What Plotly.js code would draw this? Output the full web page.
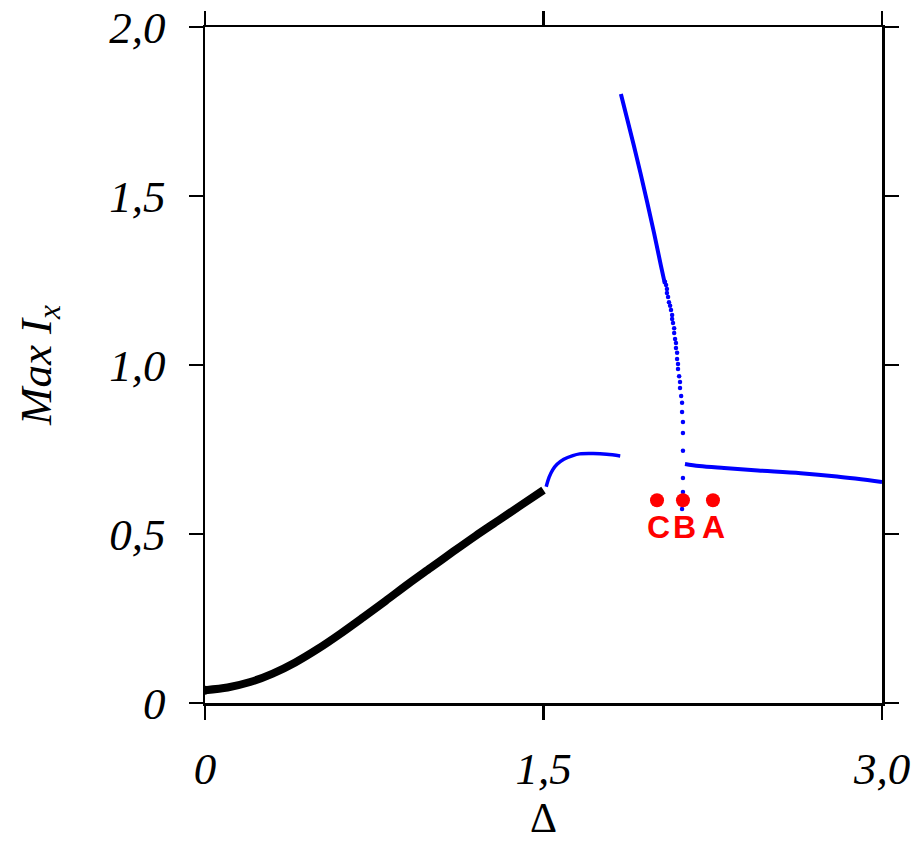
<!DOCTYPE html>
<html>
<head>
<meta charset="utf-8">
<script src="https://cdn.plot.ly/plotly-3.0.1.min.js"></script>
<style>html,body{margin:0;padding:0;background:#fff;}#chart{width:915px;height:841px;}</style>
</head>
<body>
<div id="chart"></div>
<script>
// Black branch (thick)
const blackX = [0, 0.1, 0.2, 0.3, 0.4, 0.5, 0.6, 0.7, 0.8, 0.9, 1.0, 1.1, 1.2, 1.3, 1.4, 1.5];
const blackY = [0.038, 0.046, 0.062, 0.087, 0.12, 0.16, 0.205, 0.253, 0.302, 0.352, 0.40, 0.448, 0.495, 0.54, 0.585, 0.63];

// Blue branch 1 (short arc after 1.5)
const blue1X = [1.512, 1.525, 1.54, 1.56, 1.59, 1.63, 1.66, 1.72, 1.78, 1.84];
const blue1Y = [0.64, 0.668, 0.689, 0.706, 0.721, 0.732, 0.737, 0.738, 0.736, 0.731];

// Blue branch 2, dense upper part
const blue2X = [1.843, 1.87, 1.90, 1.93, 1.96, 1.99, 2.02, 2.038];
const blue2Y = [1.802, 1.730, 1.650, 1.567, 1.480, 1.390, 1.295, 1.240];

// Blue branch 2, sparse dotted lower part
const dotsX = [2.038, 2.043, 2.047, 2.047, 2.052, 2.056, 2.061, 2.065, 2.070, 2.070, 2.074, 2.079, 2.079, 2.083, 2.087, 2.087, 2.092, 2.092, 2.096, 2.096, 2.101, 2.105, 2.105, 2.110, 2.114, 2.114, 2.118, 2.118, 2.118, 2.118, 2.118, 2.114];
const dotsY = [1.246, 1.237, 1.225, 1.213, 1.201, 1.186, 1.175, 1.163, 1.148, 1.136, 1.124, 1.109, 1.095, 1.077, 1.065, 1.050, 1.036, 1.018, 1.003, 0.988, 0.967, 0.950, 0.932, 0.908, 0.888, 0.861, 0.831, 0.799, 0.746, 0.666, 0.624, 0.574];

// Blue branch 3 (right)
const blue3X = [2.127, 2.19, 2.3, 2.45, 2.64, 2.8, 3.0];
const blue3Y = [0.707, 0.701, 0.695, 0.688, 0.680, 0.670, 0.654];

// Red points and labels
const redX = [2.003, 2.118, 2.251];
const redY = [0.60, 0.60, 0.60];
const redLabels = ['C', 'B', 'A'];
const labelX = [2.010, 2.124, 2.252];
const labelY = 0.522;

// Ticks
const xTickVals = [0, 1.5, 3.0];
const xTickText = ['0', '1,5', '3,0'];
const yTickVals = [0, 0.5, 1.0, 1.5, 2.0];
const yTickText = ['0', '0,5', '1,0', '1,5', '2,0'];

const traces = [
  {x: blackX, y: blackY, mode: 'lines', line: {color: '#000', width: 8, shape: 'spline', smoothing: 0.8}, hoverinfo: 'skip'},
  {x: [blackX[0]], y: [blackY[0]], mode: 'markers', marker: {color: '#000', size: 9}, hoverinfo: 'skip'},
  {x: blue1X, y: blue1Y, mode: 'lines', line: {color: '#0000ff', width: 3.5, shape: 'spline'}, hoverinfo: 'skip'},
  {x: blue2X, y: blue2Y, mode: 'lines', line: {color: '#0000ff', width: 4, shape: 'spline'}, hoverinfo: 'skip'},
  {x: dotsX, y: dotsY, mode: 'markers', marker: {color: '#0000ff', size: 4.5}, hoverinfo: 'skip'},
  {x: blue3X, y: blue3Y, mode: 'lines', line: {color: '#0000ff', width: 4, shape: 'spline'}, hoverinfo: 'skip'},
  {x: redX, y: redY, mode: 'markers', marker: {color: '#ff0000', size: 14}, hoverinfo: 'skip'}
];

const annotations = redLabels.map((t, i) => ({
  x: labelX[i], y: labelY, text: '<b>' + t + '</b>', showarrow: false,
  font: {family: 'Liberation Sans, Arial, sans-serif', size: 32, color: '#ff0000'},
  xanchor: 'center', yanchor: 'middle'
}));

const axisCommon = {
  showgrid: false, zeroline: false, showline: true, linecolor: '#000', linewidth: 2.5,
  mirror: 'ticks', ticks: 'outside', ticklen: 14, tickwidth: 2.5, tickcolor: '#000',
  tickfont: {family: 'Liberation Serif, Times New Roman, serif', size: 45, color: '#000', style: 'italic'}
};

const layout = {
  width: 915, height: 841,
  margin: {l: 205, r: 33, t: 27, b: 138},
  paper_bgcolor: '#fff', plot_bgcolor: '#fff',
  showlegend: false,
  xaxis: Object.assign({}, axisCommon, {
    range: [0, 3.0], tickvals: xTickVals, ticktext: xTickText, ticklabelstandoff: 10,
    title: {text: 'Δ', font: {family: 'Liberation Serif, Times New Roman, serif', size: 42, color: '#000'}, standoff: 18}
  }),
  yaxis: Object.assign({}, axisCommon, {
    range: [0, 2.0], tickvals: yTickVals, ticktext: yTickText, ticklabelstandoff: 14,
    title: {text: 'Max I<sub>x</sub>', font: {family: 'Liberation Serif, Times New Roman, serif', size: 45, color: '#000', style: 'italic'}, standoff: 44}
  }),
  annotations: annotations
};

Plotly.newPlot('chart', traces, layout, {staticPlot: true, displayModeBar: false});
</script>
</body>
</html>
